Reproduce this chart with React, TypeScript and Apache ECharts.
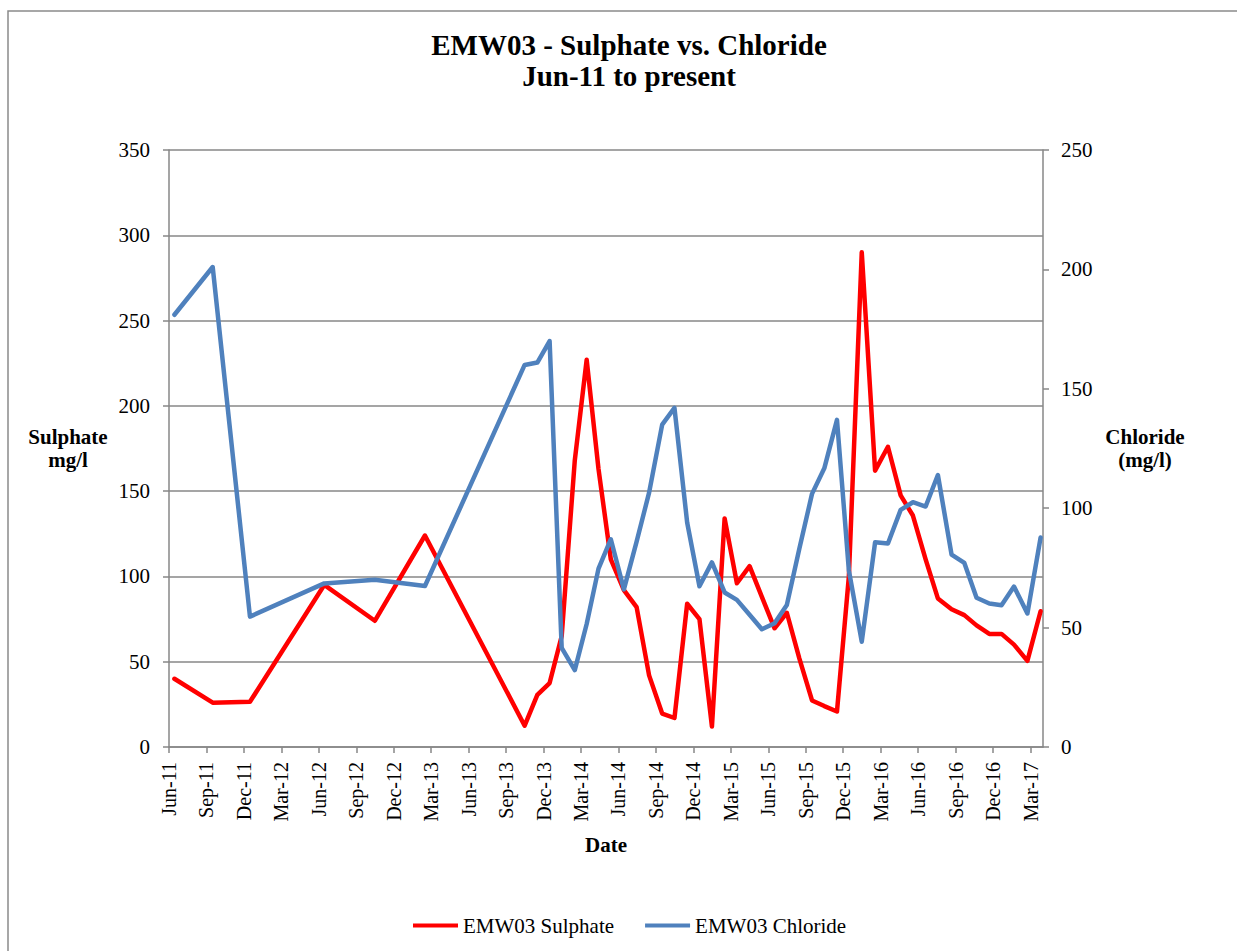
import React, { useEffect, useRef } from 'react';
import * as echarts from 'echarts';

const sampleDates = [
  '2011-06-14', '2011-09-16', '2011-12-16', '2012-06-14', '2012-10-16', '2013-02-15',
  '2013-10-16', '2013-11-16', '2013-12-16',
  '2014-01-15', '2014-02-15', '2014-03-15', '2014-04-13', '2014-05-13', '2014-06-14',
  '2014-07-15', '2014-08-15', '2014-09-16', '2014-10-16', '2014-11-16', '2014-12-16',
  '2015-01-16', '2015-02-15', '2015-03-16', '2015-04-16', '2015-05-16', '2015-06-16',
  '2015-07-16', '2015-08-16', '2015-09-16', '2015-10-16', '2015-11-16', '2015-12-15',
  '2016-01-16', '2016-02-17', '2016-03-19', '2016-04-19', '2016-05-19', '2016-06-19',
  '2016-07-19', '2016-08-22', '2016-09-22', '2016-10-22', '2016-11-22', '2016-12-22',
  '2017-01-22', '2017-02-22', '2017-03-26',
];

const sulphate = [
  40, 26, 26.5, 95, 74, 124,
  12.5, 30.5, 37.5,
  65, 168, 227, 163, 110, 92,
  82, 42, 19.6, 17, 84, 75,
  12, 134, 96, 106, 88, 69.6,
  78.7, 52, 27.3, 24, 20.8, 100,
  290, 162, 176, 147.5, 135.7, 110,
  87.1, 80.8, 77.3, 71.3, 66.3, 66.3,
  60, 50.5, 79.6,
];

const chloride = [
  181, 201, 54.6, 68.5, 70, 67.4,
  160, 161, 170,
  41.5, 32.2, 51.5, 74.7, 87, 66,
  86, 106.5, 135, 142, 94, 67.3,
  77.3, 64.7, 61.6, 55.4, 49.3, 51.8,
  59.5, 83, 106, 116.7, 137, 74,
  44.1, 85.7, 85.2, 99.3, 102.5, 100.7,
  113.9, 80.6, 77.1, 62.5, 60.1, 59.4,
  67.2, 55.9, 87.7,
];

const xTickLabels = [
  'Jun-11', 'Sep-11', 'Dec-11', 'Mar-12', 'Jun-12', 'Sep-12', 'Dec-12', 'Mar-13',
  'Jun-13', 'Sep-13', 'Dec-13', 'Mar-14', 'Jun-14', 'Sep-14', 'Dec-14', 'Mar-15',
  'Jun-15', 'Sep-15', 'Dec-15', 'Mar-16', 'Jun-16', 'Sep-16', 'Dec-16', 'Mar-17',
];

const FONT = 'Liberation Serif';
const GRID_GRAY = '#878787';

// months elapsed since 1 Jun 2011
function monthOffset(d: string): number {
  const [y, mo, day] = d.split('-').map(Number);
  const dim = new Date(Date.UTC(y, mo, 0)).getUTCDate();
  return (y - 2011) * 12 + (mo - 6) + (day - 1) / dim;
}

function label(text: string, x: number, y: number, size: number, lineHeight?: number) {
  return {
    type: 'text',
    x,
    y,
    style: {
      text,
      fontFamily: FONT,
      fontSize: size,
      fontWeight: 'bold',
      lineHeight: lineHeight ?? size * 1.2,
      fill: '#000',
      align: 'center',
      verticalAlign: 'middle',
    },
  };
}

export default function App() {
  const ref = useRef<HTMLDivElement>(null);

  useEffect(() => {
    document.body.style.margin = '0';
    if (!ref.current) return;
    const chart = echarts.init(ref.current, undefined, { renderer: 'svg' });

    const sulphateData = sampleDates.map((d, i) => [monthOffset(d), sulphate[i]]);
    const chlorideData = sampleDates.map((d, i) => [monthOffset(d), chloride[i]]);

    const axisLineStyle = { color: GRID_GRAY, width: 1.5 };

    chart.setOption({
      animation: false,
      backgroundColor: '#ffffff',
      grid: { left: 169, top: 150, width: 874, height: 597, containLabel: false },
      legend: {
        left: 408,
        top: 910,
        icon: 'rect',
        itemWidth: 45,
        itemHeight: 4,
        itemGap: 31,
        textStyle: { fontFamily: FONT, fontSize: 21, color: '#000' },
        data: ['EMW03 Sulphate', 'EMW03 Chloride'],
      },
      xAxis: {
        type: 'value',
        min: 0,
        max: 70,
        interval: 3,
        axisLine: { show: true, lineStyle: axisLineStyle },
        axisTick: { show: true, inside: false, length: 6, lineStyle: axisLineStyle },
        splitLine: { show: false },
        axisLabel: {
          rotate: 90,
          margin: 15,
          padding: [10, 0, 0, 0],
          fontFamily: FONT,
          fontSize: 20,
          color: '#000',
          showMaxLabel: false,
          formatter: (v: number) => {
            const idx = Math.round(v / 3);
            if (Math.abs(v - idx * 3) > 1e-6) return '';
            return xTickLabels[idx] ?? '';
          },
        },
      },
      yAxis: [
        {
          type: 'value',
          position: 'left',
          min: 0,
          max: 350,
          interval: 50,
          axisLine: { show: true, lineStyle: axisLineStyle },
          axisTick: { show: true, inside: false, length: 6, lineStyle: axisLineStyle },
          splitLine: { show: true, lineStyle: { color: GRID_GRAY, width: 1.5 } },
          axisLabel: { margin: 19, fontFamily: FONT, fontSize: 21, color: '#000' },
        },
        {
          type: 'value',
          position: 'right',
          min: 0,
          max: 250,
          interval: 50,
          axisLine: { show: true, lineStyle: axisLineStyle },
          axisTick: { show: true, inside: false, length: 6, lineStyle: axisLineStyle },
          splitLine: { show: false },
          axisLabel: { margin: 18, fontFamily: FONT, fontSize: 21, color: '#000' },
        },
      ],
      series: [
        {
          name: 'EMW03 Sulphate',
          type: 'line',
          yAxisIndex: 0,
          data: sulphateData,
          showSymbol: false,
          symbol: 'none',
          color: '#FF0000',
          lineStyle: { color: '#FF0000', width: 4.5, join: 'round', cap: 'round' },
        },
        {
          name: 'EMW03 Chloride',
          type: 'line',
          yAxisIndex: 1,
          data: chlorideData,
          showSymbol: false,
          symbol: 'none',
          color: '#4F81BD',
          lineStyle: { color: '#4F81BD', width: 4.5, join: 'round', cap: 'round' },
        },
      ],
      graphic: [
        {
          type: 'rect',
          shape: { x: 8, y: 11, width: 1300, height: 1000 },
          style: { fill: 'none', stroke: '#8a8a8a', lineWidth: 1.5 },
          silent: true,
          z: -10,
        },
        label('EMW03 - Sulphate vs. Chloride', 629, 45, 29),
        label('Jun-11 to present', 629, 76, 29),
        label('Sulphate\nmg/l', 68, 448, 21, 23),
        label('Chloride\n(mg/l)', 1145, 448, 21, 23),
        label('Date', 606, 845, 21),
      ],
    });

    return () => {
      chart.dispose();
    };
  }, []);

  return <div ref={ref} style={{ width: 1237, height: 951 }} />;
}
